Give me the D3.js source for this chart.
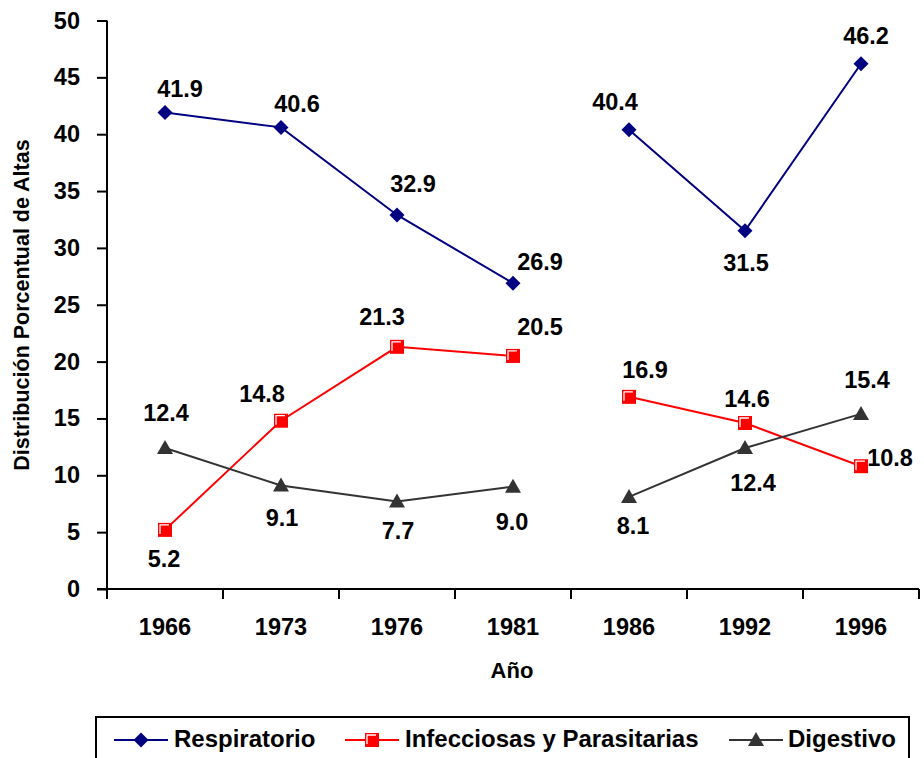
<!DOCTYPE html>
<html>
<head>
<meta charset="utf-8">
<script src="https://cdn.jsdelivr.net/npm/d3@7"></script>
<style>
  html, body { margin: 0; padding: 0; background: #fff; }
  svg { display: block; font-family: "Liberation Sans", Arial, sans-serif; font-weight: bold; }
</style>
</head>
<body>
<svg id="chart" width="924" height="758"></svg>
<script>
// Hospital discharges by cause group (%), by year
const years = ["1966", "1973", "1976", "1981", "1986", "1992", "1996"];
const respiratorio = [41.9, 40.6, 32.9, 26.9, 40.4, 31.5, 46.2];
const infecciosas  = [5.2, 14.8, 21.3, 20.5, 16.9, 14.6, 10.8];
const digestivo    = [12.4, 9.1, 7.7, 9.0, 8.1, 12.4, 15.4];
const yTicks = [0, 5, 10, 15, 20, 25, 30, 35, 40, 45, 50];
// the series is interrupted between these two groups of years
const segments = [[0, 1, 2, 3], [4, 5, 6]];

// value-label offsets (px) relative to each point
const respLabelOffset = [[15, -24], [16, -23], [16, -31], [27, -21], [-14, -28], [1, 32], [5, -28]];
const infLabelOffset  = [[-1, 29], [-19, -27], [-15, -30], [27, -29], [16, -27], [2, -24], [29, -8]];
const digLabelOffset  = [[1, -35], [1, 32], [1, 30], [-1, 35], [4, 29], [8, 35], [6, -34]];

const series = [
  { name: "Respiratorio", values: respiratorio, color: "#000080", marker: "diamond", offsets: respLabelOffset },
  { name: "Infecciosas y Parasitarias", values: infecciosas, color: "#FF0000", marker: "square", offsets: infLabelOffset },
  { name: "Digestivo", values: digestivo, color: "#333333", marker: "triangle", offsets: digLabelOffset }
];

const svg = d3.select("#chart");
const plotLeft = 107, plotRight = 919, plotTop = 20.5, plotBottom = 589;
const FS = 23.5;

const x = d3.scaleBand().domain(years).range([plotLeft, plotRight]);
const y = d3.scaleLinear().domain([0, 50]).range([plotBottom, plotTop]);
const cx = d => x(d) + x.bandwidth() / 2;

// Y axis
const yAxis = svg.append("g")
  .attr("transform", `translate(${plotLeft},0)`)
  .call(d3.axisLeft(y).tickValues(yTicks).tickSize(10).tickPadding(17).tickFormat(d3.format("d")));
yAxis.select(".domain").attr("stroke", "#000").attr("stroke-width", 2).attr("d", `M0,${plotTop}V${plotBottom}`);
yAxis.selectAll(".tick line").attr("stroke", "#000").attr("stroke-width", 2);
yAxis.selectAll(".tick text").attr("fill", "#000").style("font-size", FS + "px").style("font-weight", "bold")
  .style("font-family", "Liberation Sans, Arial, sans-serif");

// X axis: ticks between categories
const xAxisG = svg.append("g").attr("transform", `translate(0,${plotBottom})`);
xAxisG.append("line").attr("x1", plotLeft - 10).attr("x2", plotRight).attr("y1", 0).attr("y2", 0)
  .attr("stroke", "#000").attr("stroke-width", 2);
const boundaries = years.map(d => x(d)).concat([x(years[years.length - 1]) + x.bandwidth()]);
xAxisG.selectAll("line.tk").data(boundaries).join("line").attr("class", "tk")
  .attr("x1", d => d).attr("x2", d => d).attr("y1", 0).attr("y2", 10)
  .attr("stroke", "#000").attr("stroke-width", 2);
xAxisG.selectAll("text").data(years).join("text")
  .attr("x", d => cx(d)).attr("y", 46).attr("text-anchor", "middle")
  .style("font-size", FS + "px").text(d => d);

// Axis titles
svg.append("text").attr("x", 512).attr("y", 678).attr("text-anchor", "middle")
  .style("font-size", "22px").text("Año");
svg.append("text").attr("transform", `translate(29,305) rotate(-90)`).attr("text-anchor", "middle")
  .style("font-size", "21.5px").text("Distribución Porcentual de Altas");

// Marker drawing
function drawMarker(g, type, color, px, py) {
  if (type === "diamond") {
    g.append("path").attr("d", `M${px},${py - 7.5}L${px + 7.5},${py}L${px},${py + 7.5}L${px - 7.5},${py}Z`)
      .attr("fill", color);
  } else if (type === "square") {
    const h = 7;
    g.append("rect").attr("x", px - h).attr("y", py - h).attr("width", 2 * h).attr("height", 2 * h)
      .attr("fill", color);
    g.append("path").attr("d", `M${px - h + 2},${py + h - 3}V${py - h + 2}H${px + h - 3}`)
      .attr("fill", "none").attr("stroke", "#fff").attr("stroke-width", 1.3);
  } else {
    g.append("path").attr("d", `M${px},${py - 8}L${px + 8},${py + 6}L${px - 8},${py + 6}Z`)
      .attr("fill", color);
  }
}

const line = d3.line().x(d => cx(years[d.i])).y(d => y(d.v));

series.forEach(s => {
  const g = svg.append("g");
  segments.forEach(seg => {
    g.append("path").datum(seg.map(i => ({ i, v: s.values[i] })))
      .attr("d", line).attr("fill", "none").attr("stroke", s.color).attr("stroke-width", 2);
  });
  s.values.forEach((v, i) => drawMarker(g, s.marker, s.color, cx(years[i]), y(v)));
  g.selectAll("text.val").data(s.values).join("text").attr("class", "val")
    .attr("x", (v, i) => cx(years[i]) + s.offsets[i][0])
    .attr("y", (v, i) => y(v) + s.offsets[i][1])
    .attr("text-anchor", "middle").attr("dominant-baseline", "central")
    .style("font-size", FS + "px").text(v => v.toFixed(1));
});

// Legend
const lg = svg.append("g");
lg.append("rect").attr("x", 96).attr("y", 717).attr("width", 813).attr("height", 60)
  .attr("fill", "#fff").attr("stroke", "#000").attr("stroke-width", 2);
const legendX = [114, 345, 729];
const legendTextX = [174, 405, 788];
series.forEach((s, k) => {
  const lx = legendX[k], ly = 740;
  lg.append("line").attr("x1", lx).attr("x2", lx + 54).attr("y1", ly).attr("y2", ly)
    .attr("stroke", s.color).attr("stroke-width", 2);
  drawMarker(lg, s.marker, s.color, lx + 27, ly);
  lg.append("text").attr("x", legendTextX[k]).attr("y", 747)
    .style("font-size", "24px").text(s.name);
});
</script>
</body>
</html>
